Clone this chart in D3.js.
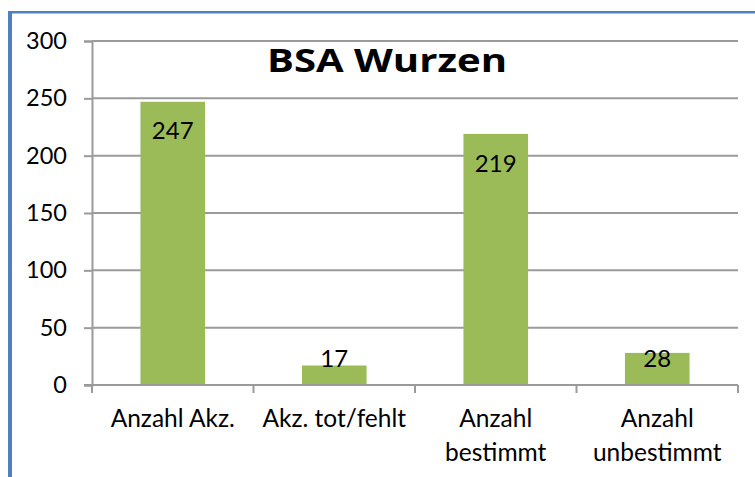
<!DOCTYPE html>
<html><head><meta charset="utf-8">
<script src="https://cdn.jsdelivr.net/npm/d3@7/dist/d3.min.js"></script>
<style>body{margin:0;background:#fff;}svg{display:block;font-family:Lato,"Open Sans",sans-serif;}</style>
</head><body>
<script>
const categories = [["Anzahl Akz."], ["Akz. tot/fehlt"], ["Anzahl", "bestimmt"], ["Anzahl", "unbestimmt"]];
const values = [247, 17, 219, 28];
const yTicks = [0, 50, 100, 150, 200, 250, 300];
const title = "BSA Wurzen";

const W = 755, H = 477;
const svg = d3.select("body").append("svg").attr("width", W).attr("height", H);

// frame
svg.append("line").attr("x1", 10).attr("x2", 10).attr("y1", 11).attr("y2", H)
  .attr("stroke", "#4f81bd").attr("stroke-width", 4);
svg.append("line").attr("x1", 8).attr("x2", W).attr("y1", 12.2).attr("y2", 12.2)
  .attr("stroke", "#4f81bd").attr("stroke-width", 2.5);

const pL = 92, pR = 738, pT = 41, pB = 385;
const x = d3.scaleBand().domain(d3.range(categories.length)).range([pL, pR]).paddingInner(0.6).paddingOuter(0.3);
const xb = d3.scaleBand().domain(d3.range(categories.length)).range([pL, pR]);
const y = d3.scaleLinear().domain([0, 300]).range([pB, pT]);

const grid = "#9a9a9a";
// gridlines
svg.append("g").selectAll("line").data(yTicks.filter(d => d > 0)).join("line")
  .attr("x1", pL).attr("x2", pR).attr("y1", d => y(d)).attr("y2", d => y(d))
  .attr("stroke", grid).attr("stroke-width", 2);

// y axis
const yAxis = svg.append("g").attr("transform", `translate(${pL},0)`)
  .call(d3.axisLeft(y).tickValues(yTicks).tickSize(8).tickPadding(17));
yAxis.select(".domain").attr("stroke", grid).attr("stroke-width", 2);
yAxis.selectAll(".tick line").attr("stroke", grid).attr("stroke-width", 2);
yAxis.selectAll("text").attr("font-size", 23.5).attr("fill", "#000").attr("font-family", "Lato");

// bars
svg.append("g").selectAll("rect").data(values).join("rect")
  .attr("x", (d, i) => x(i)).attr("width", x.bandwidth())
  .attr("y", d => y(d)).attr("height", d => pB - y(d))
  .attr("fill", "#9bbb59");

// x axis
const xAxis = svg.append("g").attr("transform", `translate(0,${pB})`);
xAxis.append("line").attr("x1", pL - 8).attr("x2", pR).attr("y1", 0).attr("y2", 0)
  .attr("stroke", grid).attr("stroke-width", 2);
xAxis.selectAll("line.tk").data(d3.range(categories.length + 1)).join("line").attr("class", "tk")
  .attr("x1", i => i < categories.length ? xb(i) : pR).attr("x2", i => i < categories.length ? xb(i) : pR)
  .attr("y1", 0).attr("y2", 8).attr("stroke", grid).attr("stroke-width", 2);
const cl = xAxis.selectAll("text").data(categories).join("text")
  .attr("x", (d, i) => xb(i) + xb.bandwidth() / 2).attr("y", 42)
  .attr("text-anchor", "middle").attr("font-size", 24.5).attr("fill", "#000");
cl.selectAll("tspan").data(d => d).join("tspan")
  .attr("x", function() { return this.parentNode.getAttribute("x"); })
  .attr("dy", (d, i) => i === 0 ? 0 : 34).text(d => d);

// data labels
svg.append("g").selectAll("text").data(values).join("text")
  .attr("x", (d, i) => x(i) + x.bandwidth() / 2)
  .attr("y", d => Math.min(y(d) + 37.7, pB - 18))
  .attr("text-anchor", "middle").attr("font-size", 24).attr("fill", "#000").text(d => d);

// title
svg.append("text").attr("x", 387).attr("y", 71.7).attr("text-anchor", "middle")
  .attr("font-family", "'Open Sans', Lato, sans-serif")
  .attr("font-size", 33).attr("font-weight", "bold").attr("fill", "#000")
  .attr("textLength", 240).attr("lengthAdjust", "spacingAndGlyphs").text(title);
</script>
</body></html>
